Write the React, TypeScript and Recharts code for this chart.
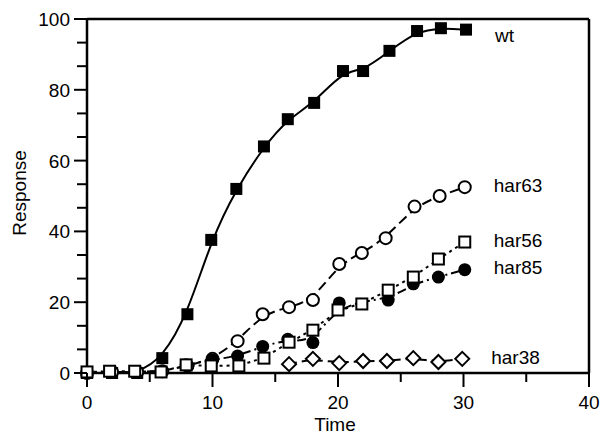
import React from "react"
import { Line, LineChart, ReferenceLine, XAxis, YAxis } from "recharts"

const FONT = "'Liberation Sans', Arial, Helvetica, sans-serif"

// series (time, response)
const seriesNames = ["wt", "har63", "har56", "har85", "har38"]

const wtTime = [0, 2, 4, 6, 8, 9.9, 11.9, 14.1, 16, 18.1, 20.4, 22, 24.1, 26.3, 28.2, 30.2]
const wtValue = [0, 0, 0, 4.2, 16.6, 37.6, 52, 64, 71.7, 76.3, 85.3, 85.3, 91, 96.6, 97.4, 97]

const har63Time = [0, 2, 4, 6, 8, 10, 12, 14, 16.1, 18, 20.1, 21.9, 23.8, 26.1, 28.1, 30.1]
const har63Value = [0, 0.3, 0.3, 0.5, 2, 4, 9, 16.6, 18.6, 20.6, 30.8, 33.9, 38.1, 47, 50, 52.5]

const har56Time = [0, 1.8, 3.8, 5.9, 7.9, 9.9, 12.1, 14.1, 16.1, 18, 20, 21.9, 24, 26, 28, 30.1]
const har56Value = [0.3, 0.5, 0.5, 0.3, 2.3, 2, 2, 4.2, 8.7, 12.1, 17.8, 19.5, 23.4, 27.1, 32.2, 37]

const har85Time = [7.9, 10, 12, 14, 16, 18, 20.1, 24, 26, 28, 30.1]
const har85Value = [2.3, 3.7, 4.8, 7.5, 9.5, 8.6, 19.8, 20.6, 25.2, 27.1, 29.2]

const har38Time = [16.1, 18, 20.1, 22, 23.9, 26, 28, 29.9]
const har38Value = [2.5, 4, 2.8, 3.4, 3.4, 4.2, 3.1, 4]

const xTicks = [0, 5, 10, 15, 20, 25, 30, 35, 40]
const xMajor = [0, 10, 20, 30, 40]
const yTicks = [0, 6.67, 13.33, 20, 26.67, 33.33, 40, 46.67, 53.33, 60, 66.67, 73.33, 80, 86.67, 93.33, 100]
const yMajor = [0, 20, 40, 60, 80, 100]

const PLOT_LEFT = 87
const PLOT_BOTTOM = 373

function toPoints(time: number[], value: number[]) {
  return time.map((t, i) => ({ t, v: value[i] }))
}

const wtData = toPoints(wtTime, wtValue)
const har63Data = toPoints(har63Time, har63Value)
const har56Data = toPoints(har56Time, har56Value)
const har85Data = toPoints(har85Time, har85Value)
const har38Data = toPoints(har38Time, har38Value)

function XTick(props: any) {
  const { x, payload } = props
  const major = xMajor.includes(payload.value)
  return (
    <g>
      <line x1={x} x2={x} y1={PLOT_BOTTOM} y2={PLOT_BOTTOM + (major ? 14 : 9)} stroke="#000" strokeWidth={2} />
      {major && (
        <text x={x} y={409} textAnchor="middle" fontSize={19} fontFamily={FONT} fill="#000">
          {payload.value}
        </text>
      )}
    </g>
  )
}

function YTick(props: any) {
  const { y, payload } = props
  const major = yMajor.some((m) => Math.abs(m - payload.value) < 0.01)
  return (
    <g>
      <line x1={PLOT_LEFT - (major ? 13 : 10)} x2={PLOT_LEFT} y1={y} y2={y} stroke="#000" strokeWidth={2} />
      {major && (
        <text x={70} y={y + 7} textAnchor="end" fontSize={19} fontFamily={FONT} fill="#000">
          {Math.round(payload.value)}
        </text>
      )}
    </g>
  )
}

// marker shapes
const filledSquare = (p: any) => (
  <rect key={p.index} x={p.cx - 6} y={p.cy - 6} width={12} height={12} fill="#000" />
)
const openSquare = (p: any) => (
  <rect key={p.index} x={p.cx - 5.5} y={p.cy - 5.5} width={11} height={11} fill="#fff" stroke="#000" strokeWidth={2} />
)
const openCircle = (p: any) => (
  <circle key={p.index} cx={p.cx} cy={p.cy} r={6} fill="#fff" stroke="#000" strokeWidth={2} />
)
const filledCircle = (p: any) => <circle key={p.index} cx={p.cx} cy={p.cy} r={6.5} fill="#000" />
const openDiamond = (p: any) => (
  <path
    key={p.index}
    d={`M${p.cx},${p.cy - 7} L${p.cx + 7},${p.cy} L${p.cx},${p.cy + 7} L${p.cx - 7},${p.cy} Z`}
    fill="#fff"
    stroke="#000"
    strokeWidth={2}
  />
)

function endLabel(name: string, count: number, dy: number) {
  return (p: any) => {
    if (p.index !== count - 1) return null
    return (
      <text key={name} x={p.x + 29} y={p.y + dy + 7} fontSize={19} fontFamily={FONT} fill="#000">
        {name}
      </text>
    )
  }
}

export default function App() {
  return (
    <div style={{ position: "absolute", left: 0, top: 0, width: 602, height: 437, background: "#fff" }}>
      <LineChart width={602} height={437} margin={{ top: 19, right: 13, bottom: 0, left: 0 }}>
        <XAxis
          dataKey="t"
          type="number"
          domain={[0, 40]}
          ticks={xTicks}
          height={64}
          axisLine={{ stroke: "#000", strokeWidth: 2.5 }}
          tickLine={false}
          tick={<XTick />}
          allowDuplicatedCategory={false}
        />
        <YAxis
          type="number"
          domain={[0, 100]}
          ticks={yTicks}
          width={87}
          axisLine={{ stroke: "#000", strokeWidth: 2.5 }}
          tickLine={false}
          tick={<YTick />}
        />
        <ReferenceLine y={100} stroke="#000" strokeWidth={2.5} />
        <ReferenceLine x={40} stroke="#000" strokeWidth={2.5} />

        {/* fitted curves */}
        <Line data={wtData} dataKey="v" type="basis" stroke="#000" strokeWidth={2} dot={false} isAnimationActive={false} />
        <Line data={har63Data} dataKey="v" type="basis" stroke="#000" strokeWidth={2} strokeDasharray="10 5" dot={false} isAnimationActive={false} />
        <Line data={har38Data} dataKey="v" type="basis" stroke="#000" strokeWidth={2} strokeDasharray="8 5" dot={false} isAnimationActive={false} />
        <Line data={har85Data} dataKey="v" type="basis" stroke="#000" strokeWidth={2} strokeDasharray="9 4 2 4" dot={false} isAnimationActive={false} />
        <Line data={har56Data} dataKey="v" type="basis" stroke="#000" strokeWidth={2} strokeDasharray="3 4" dot={false} isAnimationActive={false} />

        {/* markers */}
        <Line data={wtData} dataKey="v" stroke="none" dot={filledSquare} label={endLabel(seriesNames[0], wtData.length, 5)} isAnimationActive={false} />
        <Line data={har63Data} dataKey="v" stroke="none" dot={openCircle} label={endLabel(seriesNames[1], har63Data.length, -2)} isAnimationActive={false} />
        <Line data={har38Data} dataKey="v" stroke="none" dot={openDiamond} label={endLabel(seriesNames[4], har38Data.length, -2)} isAnimationActive={false} />
        <Line data={har85Data} dataKey="v" stroke="none" dot={filledCircle} label={endLabel(seriesNames[3], har85Data.length, -3)} isAnimationActive={false} />
        <Line data={har56Data} dataKey="v" stroke="none" dot={openSquare} label={endLabel(seriesNames[2], har56Data.length, -2)} isAnimationActive={false} />

        <text x={335} y={431} textAnchor="middle" fontSize={19} fontFamily={FONT} fill="#000">
          Time
        </text>
        <text x={26} y={193} transform="rotate(-90 26 193)" textAnchor="middle" fontSize={19} fontFamily={FONT} fill="#000">
          Response
        </text>
      </LineChart>
    </div>
  )
}
